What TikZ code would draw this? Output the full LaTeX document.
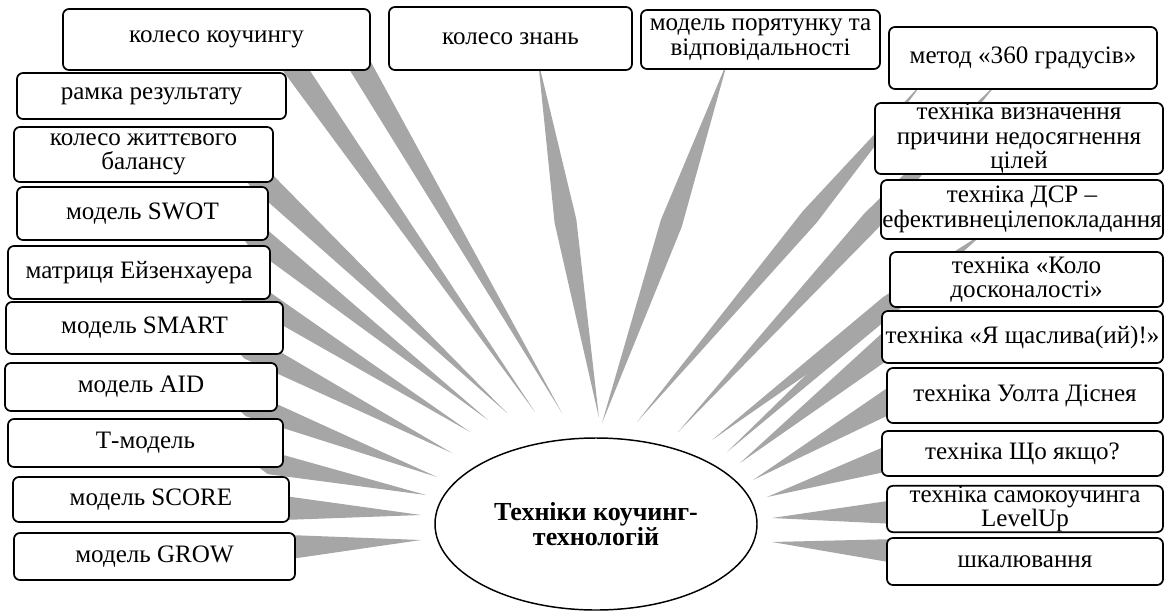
\documentclass[tikz,border=0pt]{standalone}
\usepackage{fontspec}
\setmainfont{Liberation Serif}
\usetikzlibrary{calc,shapes.geometric}
\definecolor{wedgegray}{RGB}{166,166,166}
\tikzset{
  box/.style={draw=black, line width=1.3pt, fill=white, rounded corners=4.5pt, align=center, inner sep=0pt, font=\fontsize{18.8}{18.3}\selectfont},
  hub/.style={ellipse, draw=black, line width=1.1pt, fill=white, inner sep=0pt, align=center, font=\fontsize{19.5}{19}\selectfont\bfseries},
  spoke/.style={fill=wedgegray}
}
\newcommand{\bx}[6]{%
  \pgfmathsetmacro{\bw}{(#4-#2)*0.75}%
  \pgfmathsetmacro{\bh}{(#5-#3)*0.75}%
  \node[box, minimum width=\bw pt, minimum height=\bh pt] (#1) at ({(#2+#4)/2},{(#3+#5)/2}) {#6};}
% spindle: narrow start S, tip T, widest at fraction f, half-width h
\newcommand{\spdl}[5]{%
  \coordinate (s#1) at (#2);
  \coordinate (t#1) at (#3);
  \fill[spoke] (s#1) -- ($(s#1)!#4!(t#1)!#5!90:(t#1)$) -- (t#1) -- ($(s#1)!#4!(t#1)!#5!-90:(t#1)$) -- cycle;}
% tapered spoke: widest at E (hidden in its box), tip T, half-width h
\newcommand{\wdg}[4]{%
  \coordinate (e#1) at (#2);
  \coordinate (t#1) at (#3);
  \fill[spoke] ($(e#1)!-0.15!(t#1)$) -- ($(e#1)!#4!90:(t#1)$) -- (t#1) -- ($(e#1)!#4!-90:(t#1)$) -- cycle;}
\begin{document}
\begin{tikzpicture}[x=0.75pt,y=-0.75pt]
\useasboundingbox (0,0) rectangle (1166,611);
% spokes, left
\wdg{grow}{290,547}{421,540}{9pt}
\wdg{score}{284,508}{421,515}{9pt}
\wdg{t}{270,463}{426,495}{8.5pt}
\wdg{aid}{250,405}{437,477}{9pt}
\wdg{smart}{250,348}{452,453}{9pt}
\wdg{eis}{250,293}{470,432}{9pt}
\wdg{swot}{255,235}{488,420}{9pt}
\wdg{kzb}{258,177}{507,413}{9pt}
\wdg{rr}{292,64}{535,412}{8.5pt}
\wdg{kk}{358,62}{562,413}{8.5pt}
% spokes, top
\spdl{kz}{538,60}{599,418}{0.45}{8.25pt}
\spdl{mp}{728,60}{602,423}{0.45}{8.25pt}
% spokes, right
\spdl{mth}{925,80}{637,422}{0.4}{6.75pt}
\spdl{vyzn}{1000,80}{678,432}{0.4}{7.5pt}
\spdl{dsr}{985,232}{712,440}{0.35}{7.5pt}
\wdg{kolo}{898,298}{727,452}{7pt}
\wdg{ya}{890,343}{740,463}{9.5pt}
\wdg{wd}{895,398}{753,480}{9.5pt}
\wdg{sho}{890,458}{767,497}{9.5pt}
\wdg{lvl}{895,512}{772,518}{9pt}
\wdg{shk}{895,551}{772,542}{9pt}
% boxes
\bx{kk}{63}{9}{370}{70}{колесо коучингу}
\bx{kz}{389}{7}{632}{70}{колесо знань}
\bx{mp}{641}{10}{880}{69}{модель порятунку та\\відповідальності}
\bx{mth}{889}{27}{1157}{89}{метод «360 градусів»}
\bx{vyzn}{875}{103}{1163}{174}{техніка визначення\\причини недосягнення\\цілей}
\bx{dsr}{881}{180}{1163}{239}{техніка ДСР –\\ефективнецілепокладання}
\bx{kolo}{890}{252}{1163}{307}{техніка «Коло\\досконалості»}
\bx{ya}{882}{311}{1163}{363}{техніка «Я щаслива(ий)!»}
\bx{wd}{887}{368}{1163}{423}{техніка Уолта Діснея}
\bx{sho}{882}{431}{1163}{476}{техніка Що якщо?}
\bx{lvl}{887}{486}{1163}{532}{техніка самокоучинга\\LevelUp}
\bx{shk}{887}{538}{1163}{585}{шкалювання}
\bx{rr}{17}{73}{286}{119}{рамка результату}
\bx{kzb}{14}{127}{273}{182}{колесо життєвого\\балансу}
\bx{swot}{17}{187}{268}{240}{модель SWOT}
\bx{eis}{8}{246}{270}{299}{матриця Ейзенхауера}
\bx{smart}{6}{302}{283}{354}{модель SMART}
\bx{aid}{5}{363}{277}{411}{модель AID}
\bx{t}{8}{419}{283}{467}{Т-модель}
\bx{score}{13}{477}{289}{522}{модель SCORE}
\bx{grow}{14}{533}{295}{580}{модель GROW}
% hub
\node[hub, minimum width=241.5pt, minimum height=129pt] (hub) at (596,524) {Техніки коучинг-\\технологій};
\end{tikzpicture}
\end{document}
